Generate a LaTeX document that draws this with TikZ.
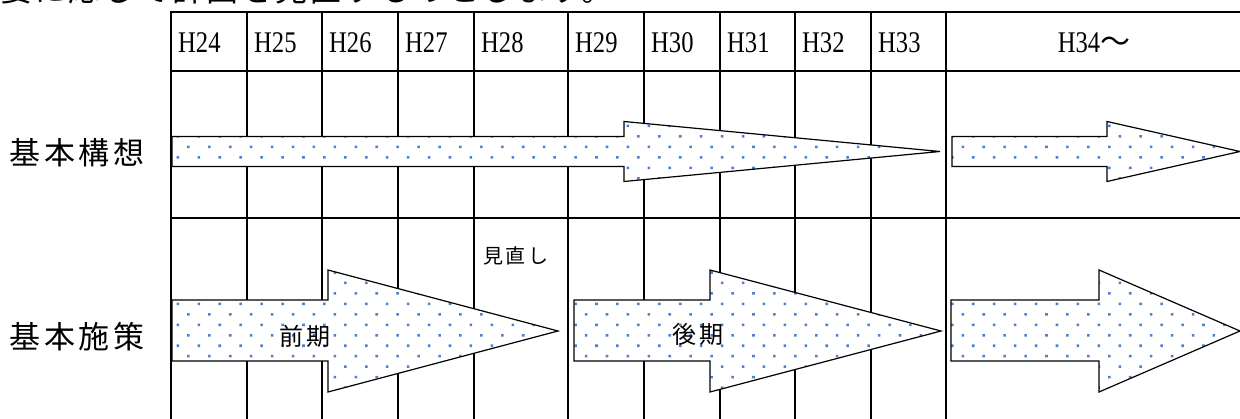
\documentclass[tikz,border=0pt]{standalone}
\usepackage{fontspec}
\usetikzlibrary{patterns.meta}
\newfontfamily\jpfont{Noto Sans CJK JP}
\newfontfamily\yearfont[FakeStretch=0.82]{Liberation Serif}
\definecolor{dotblue}{HTML}{4A82D2}

\begin{document}
\begin{tikzpicture}[x=1pt, y=-1pt,
    gridline/.style={line width=1.8pt, line cap=rect},
    bandarrow/.style={line width=1.2pt, preaction={fill=white}, pattern={Dots[distance=14.8pt, angle=45, radius=1.8pt]}, pattern color=dotblue},
    yearlabel/.style={anchor=west, inner sep=0pt, font=\fontsize{30}{30}\yearfont},
    rowlabel/.style={inner sep=0pt, font=\fontsize{31}{31}\jpfont\addfontfeature{LetterSpace=12}},
    phaselabel/.style={inner sep=0pt, font=\fontsize{24}{24}\jpfont\addfontfeature{LetterSpace=12}},
    notelabel/.style={inner sep=0pt, font=\fontsize{20}{20}\jpfont\addfontfeature{LetterSpace=14}},
    toplabel/.style={inner sep=0pt, font=\fontsize{32}{32}\jpfont\addfontfeature{LetterSpace=7.5}}]
    \newcommand{\tabletopPlan}{12}
    \newcommand{\tableleftPlan}{171}
    \newcommand{\tablerightPlan}{1240}
    \newcommand{\tablebottomPlan}{419}
    \useasboundingbox (0,0) rectangle (1240,419);
    % Sentence cut off at the top
    \node[toplabel, anchor=base west] (intro) at (0,1.5) {要に応じて計画を見直すものとします。};
    % Grid
    \foreach \yrow in {\tabletopPlan, 71, 218} {
        \draw[gridline] (\tableleftPlan,\yrow) -- (\tablerightPlan,\yrow);
    }
    \foreach \xcol in {171, 247, 322, 398, 474, 568, 644, 720, 795, 871, 946} {
        \draw[gridline] (\xcol,\tabletopPlan) -- (\xcol,\tablebottomPlan);
    }
    % Year labels
    \foreach \xcol/\yr in {171/24, 247/25, 322/26, 398/27, 474/28, 568/29, 644/30, 720/31, 795/32, 871/33} {
        \node[yearlabel] (year\yr) at (\xcol+7,43) {H\yr};
    }
    \node[inner sep=0pt, font=\fontsize{30}{30}\yearfont] (year34) at (1094,43) {H34{\jpfont ～}};
    % Row labels
    \node[rowlabel] (kousou) at (77,153) {基本構想};
    \node[rowlabel] (shisaku) at (77,337) {基本施策};
    % Arrows, first row
    \foreach \xl/\xb/\xt in {172/624/940, 952/1107/1240} {
        \draw[bandarrow] (\xl,136.5) -- (\xb,136.5) -- (\xb,121.5) -- (\xt,151.5) -- (\xb,181.5) -- (\xb,166.5) -- (\xl,166.5) -- cycle;
    }
    % Arrows, second row
    \foreach \xl/\xb/\xt in {172/328/558, 574/710/941, 951/1099/1240} {
        \draw[bandarrow] (\xl,300) -- (\xb,300) -- (\xb,270) -- (\xt,331) -- (\xb,392) -- (\xb,361) -- (\xl,361) -- cycle;
    }
    % Phase labels
    \node[phaselabel] (zenki) at (305,336) {前期};
    \node[phaselabel] (kouki) at (698,334) {後期};
    \node[notelabel] (minaoshi) at (516,256) {見直し};
\end{tikzpicture}
\end{document}
